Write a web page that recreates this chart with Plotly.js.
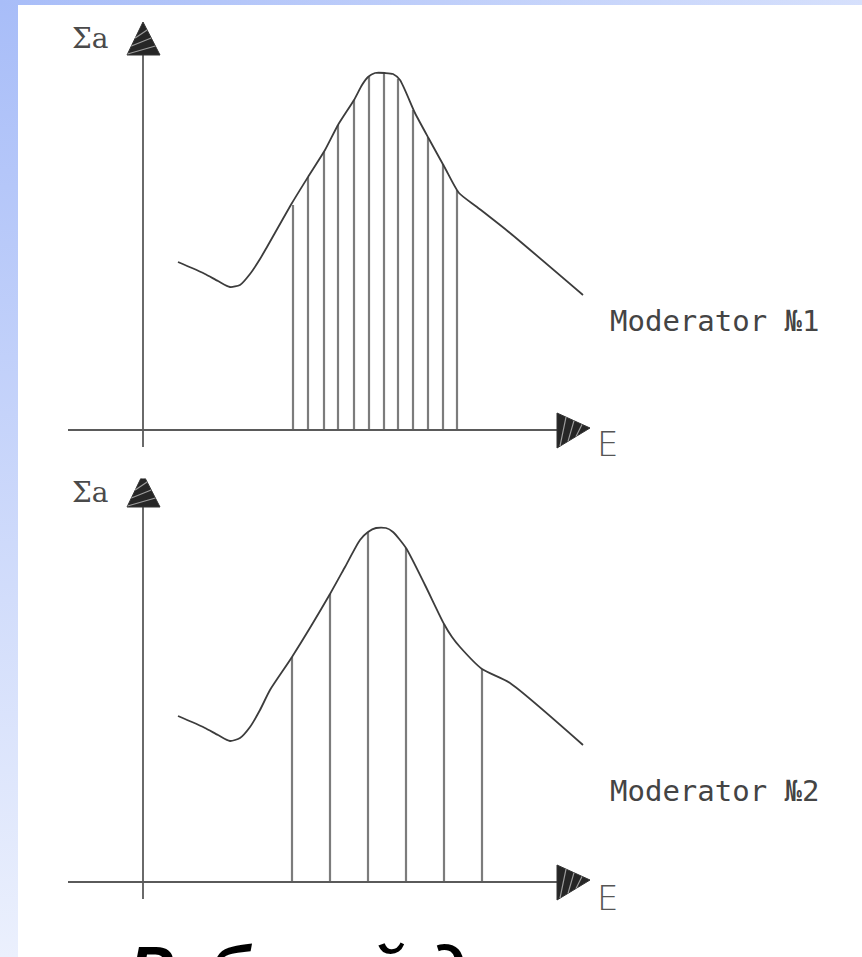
<!DOCTYPE html>
<html>
<head>
<meta charset="utf-8">
<script src="https://cdn.plot.ly/plotly-3.0.1.min.js"></script>
<style>
  html, body { margin: 0; padding: 0; width: 862px; height: 957px; overflow: hidden; background: #ffffff; }
  #band-left { position: absolute; left: 0; top: 0; width: 18px; height: 957px;
               background: linear-gradient(to bottom, #a8bdf8, #ebf0fd); }
  #band-top  { position: absolute; left: 0; top: 0; width: 862px; height: 5px;
               background: linear-gradient(to right, #a8bdf8, #d6e0fc); }
  #chart     { position: absolute; left: 0; top: 0; width: 862px; height: 957px; }
</style>
</head>
<body>
<div id="band-left"></div>
<div id="band-top"></div>
<div id="chart"></div>
<script>
// Absorption cross-section Σa versus neutron energy E (arbitrary units)
// Upper panel: moderator No.1 (fine energy steps)
const energyTop = [3.5, 4.9, 6.2, 7.5, 8.7, 9.7, 10.7, 11.7, 12.4, 14.9, 16.5, 18.2, 19.5, 21.1, 21.9, 22.5, 23.2, 24.2, 25.0, 25.7, 27.2, 28.6, 30.2, 31.6, 33.4, 36.7, 44.0];
const sigmaTop  = [16.8, 16.2, 15.6, 14.9, 14.3, 14.5, 15.6, 17.1, 18.3, 22.7, 25.3, 28.0, 30.5, 33.0, 34.5, 35.3, 35.7, 35.7, 35.6, 35.0, 31.7, 29.1, 26.2, 23.7, 22.3, 19.7, 13.5];
const stepsTopE     = [15.0, 16.5, 18.1, 19.5, 21.1, 22.6, 24.1, 25.5, 27.0, 28.5, 30.0, 31.4];
const stepsTopSigma = [22.5, 25.3, 27.8, 30.5, 33.0, 35.3, 35.7, 35.1, 32.0, 29.3, 26.6, 24.0];

// Lower panel: moderator No.2 (coarse energy steps)
const energyBottom = [3.5, 4.9, 6.2, 7.5, 8.7, 9.7, 10.7, 11.7, 12.7, 14.9, 18.7, 20.2, 21.7, 22.5, 23.3, 24.3, 25.0, 26.3, 28.2, 30.1, 30.9, 31.7, 33.9, 36.7, 44.0];
const sigmaBottom  = [16.6, 16.0, 15.4, 14.7, 14.1, 14.4, 15.5, 17.2, 19.2, 22.5, 28.8, 31.5, 34.2, 35.0, 35.4, 35.4, 35.0, 33.4, 29.7, 25.8, 24.5, 23.5, 21.3, 19.9, 13.7];
const stepsBottomE     = [14.9, 18.7, 22.5, 26.3, 30.1, 33.9];
const stepsBottomSigma = [22.5, 28.8, 35.0, 33.4, 25.8, 21.3];

const yAxisLabel = 'Σa';
const xAxisLabel = 'E';
const panelLabels = ['Moderator №1', 'Moderator №2'];
const captionText = 'Рабочий диапазон';

const INK = '#3c3c3c';
const STEM = '#7c7c7c';

// vertical strokes from the E axis up to the curve
function stems(xs, hs) {
  const x = [], y = [];
  xs.forEach((v, i) => { x.push(v, v, null); y.push(0, hs[i], null); });
  return { x, y };
}

const sTop = stems(stepsTopE, stepsTopSigma);
const sBot = stems(stepsBottomE, stepsBottomSigma);

const traces = [
  { x: sTop.x, y: sTop.y, xaxis: 'x', yaxis: 'y', mode: 'lines',
    line: { color: STEM, width: 2.2 }, hoverinfo: 'skip' },
  { x: energyTop, y: sigmaTop, xaxis: 'x', yaxis: 'y', mode: 'lines',
    line: { color: INK, width: 1.8, shape: 'spline', smoothing: 0.6 }, hoverinfo: 'skip' },
  { x: sBot.x, y: sBot.y, xaxis: 'x2', yaxis: 'y2', mode: 'lines',
    line: { color: STEM, width: 2.2 }, hoverinfo: 'skip' },
  { x: energyBottom, y: sigmaBottom, xaxis: 'x2', yaxis: 'y2', mode: 'lines',
    line: { color: INK, width: 1.8, shape: 'spline', smoothing: 0.6 }, hoverinfo: 'skip' }
];

// hand-drawn style axes with hatched arrowheads
function axisShapes(xr, yr) {
  const base = { xref: xr, yref: yr, layer: 'above' };
  const hatch = { color: '#9c9c9c', width: 1.2 };
  return [
    Object.assign({ type: 'line', x0: -7.5, x1: 41.5, y0: 0, y1: 0, line: { color: '#5a5a5a', width: 1.8 } }, base),
    Object.assign({ type: 'line', x0: 0, x1: 0, y0: -1.7, y1: 37.5, line: { color: '#5a5a5a', width: 1.8 } }, base),
    Object.assign({ type: 'path', path: 'M -1.6,37.5 L 1.7,37.5 L 0,40.8 Z',
      fillcolor: '#262626', line: { color: '#333', width: 1 } }, base),
    Object.assign({ type: 'path', path: 'M -1.55,37.6 L 1.24,38.4 M -1.16,38.4 L 0.82,39.2 M -0.78,39.2 L 0.41,40.0',
      line: hatch }, base),
    Object.assign({ type: 'path', path: 'M 41.4,1.7 L 41.4,-1.8 L 44.7,0.2 Z',
      fillcolor: '#262626', line: { color: '#333', width: 1 } }, base),
    Object.assign({ type: 'path', path: 'M 41.7,-1.62 L 42.3,1.29 M 42.5,-1.13 L 43.1,0.93 M 43.3,-0.65 L 43.9,0.56',
      line: hatch }, base)
  ];
}

function panelNotes(xr, yr, sigY, eY, modY, label) {
  return [
    { xref: xr, yref: yr, x: -5.3, y: sigY, text: yAxisLabel, showarrow: false,
      font: { family: 'DejaVu Serif', size: 28, color: '#4a4a4a' } },
    { xref: xr, yref: yr, x: 46.4, y: eY, text: xAxisLabel, showarrow: false,
      font: { family: 'DejaVu Sans', size: 34, color: '#555', weight: 200 } },
    { xref: xr, yref: yr, x: 57.2, y: modY, text: label, showarrow: false,
      font: { family: 'DejaVu Sans Mono', size: 29, color: '#444' } }
  ];
}

const layout = {
  width: 862, height: 957,
  margin: { l: 0, r: 0, t: 0, b: 0, pad: 0 },
  paper_bgcolor: 'rgba(0,0,0,0)', plot_bgcolor: 'rgba(0,0,0,0)',
  showlegend: false,
  xaxis:  { domain: [0, 1], range: [-14.3, 71.9], visible: false, fixedrange: true },
  yaxis:  { domain: [0.5, 1], range: [-4.85, 43.0], visible: false, fixedrange: true },
  xaxis2: { domain: [0, 1], range: [-14.3, 71.9], visible: false, fixedrange: true, anchor: 'y2' },
  yaxis2: { domain: [0, 0.5], range: [-7.5, 40.35], visible: false, fixedrange: true, anchor: 'x2' },
  shapes: [
    { type: 'rect', xref: 'paper', yref: 'paper', x0: 18 / 862, x1: 1, y0: 0, y1: 952 / 957,
      fillcolor: '#ffffff', line: { width: 0 }, layer: 'below' }
  ].concat(axisShapes('x', 'y'), axisShapes('x2', 'y2')),
  annotations: [].concat(
    panelNotes('x', 'y', 39.2, -1.4, 10.9, panelLabels[0]),
    panelNotes('x2', 'y2', 39.0, -1.6, 9.1, panelLabels[1]),
    [{ xref: 'paper', yref: 'paper', x: 0.5, y: 26 / 957, yanchor: 'top', xanchor: 'center',
       text: '<b><i>' + captionText + '</i></b>', showarrow: false,
       font: { family: 'Liberation Sans', size: 66, color: '#000' } }]
  )
};

Plotly.newPlot('chart', traces, layout, { staticPlot: true, displayModeBar: false });
</script>
</body>
</html>
